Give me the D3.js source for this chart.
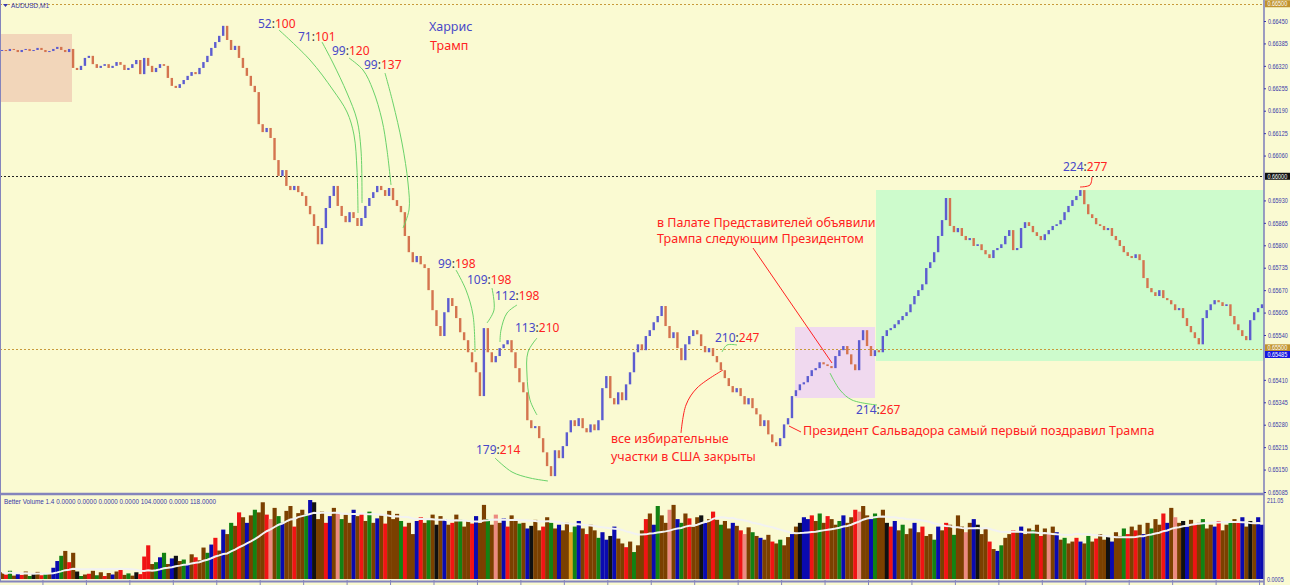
<!DOCTYPE html>
<html>
<head>
<meta charset="utf-8">
<script src="https://cdn.jsdelivr.net/npm/d3@7"></script>
<style>
  html, body { margin: 0; padding: 0; background: #fafad2; overflow: hidden; }
  svg { display: block; }
</style>
</head>
<body>
<svg id="chart" width="1290" height="585"></svg>
<script>
// AUDUSD M1 closes, in points (1 point = 0.00001)
const closePts = [
  66366,66363,66369,66366,66360,66366,66369,66363,66366,66372,66366,66360,66363,66369,66375,66366,66360,66369,
  66314,66308,66320,66343,66349,66325,66314,
  66320,66325,66314,66320,66331,66323,66308,66314,66325,66337,66296,66343,66320,66302,66314,66325,66320,
  66285,66262,66256,66267,66279,66291,
  66302,66296,66314,
  66331,66349,66372,66389,66407,
  66436,
  66395,66366,66378,66343,
  66314,66291,66262,66244,
  66151,66128,66140,66111,
  66047,66001,66018,65972,
  65960,65972,65954,65943,
  65914,65890,65856,65803,
  65850,65908,65943,65972,
  65914,65885,65867,65896,65879,65856,
  65879,65914,65937,65954,65972,
  65960,65943,65966,65931,65914,65896,
  65827,65780,65751,65769,65745,65734,
  65670,65612,65566,65537,
  65606,65647,65624,65589,
  65548,65525,65490,65461,65432,
  65363,
  65560,
  65490,65461,65479,65502,
  65513,65525,65490,
  65444,65403,65374,
  65293,65270,65276,
  65241,65200,65160,65131,
  65206,65183,65218,
  65258,65293,65276,65299,
  65270,65258,65281,65264,65293,
  65386,65421,
  65357,65339,65374,65351,
  65397,65432,65490,65513,
  65496,65537,65554,65577,65595,
  65624,
  65566,65531,65548,65502,
  65467,65513,65537,65554,
  65542,65508,65490,65502,65479,65461,
  65438,65415,65392,65374,
  65386,65363,65339,65357,65328,
  65310,65276,65293,65252,65229,
  65218,65241,
  65281,65299,
  65363,65380,65397,
  65403,65421,65438,65444,65461,65455,65450,
  65444,65479,65496,65508,
  65484,65455,65438,65525,
  65554,
  65508,65479,65496,
  65490,65537,65554,
  65560,65571,65583,65595,65606,
  65629,65653,65670,65687,
  65734,65751,65780,
  65827,65873,
  65937,
  65856,65838,65850,
  65827,65815,65821,65798,65803,65786,
  65774,65763,65786,65792,
  65803,65827,65844,
  65786,65792,
  65850,65867,65856,
  65838,65827,65815,65832,
  65844,65856,65861,
  65873,65896,65914,65931,65943,
  65960,
  65919,65890,65879,
  65861,65856,65844,65850,
  65827,65815,65798,65780,
  65769,65763,65774,65757,
  65705,65676,
  65664,65653,65670,65647,65641,
  65629,65612,65618,65589,
  65566,65548,65531,65513,
  65589,65612,65629,65641,
  65635,65624,65629,
  65595,65571,65554,65537,65525,
  65583,65606,65618,65629
];

// tick volume per bar
const volumes = [
  18,12,22,9,15,11,20,8,14,19,10,13,16,
  30,48,62,75,45,70,
  20,8,12,
  14,22,10,18,8,16,12,20,24,11,15,9,18,13,
  60,90,40,
  45,58,70,40,55,62,48,52,38,
  66,58,50,
  84,70,92,110,76,
  132,120,150,142,178,
  165,150,170,185,178,
  205,172,160,190,168,
  150,182,195,140,176,
  185,172,211,205,160,
  180,150,168,190,175,
  160,172,150,185,168,
  175,155,180,150,162,
  170,148,182,160,174,155,
  140,150,120,155,165,
  150,160,172,145,168,
  160,145,150,172,158,
  140,155,148,168,150,
  198,160,145,172,150,
  162,140,170,155,148,
  150,135,142,158,130,
  140,165,150,135,145,
  130,150,125,140,155,
  135,120,145,130,110,
  125,105,115,140,108,
  95,85,100,72,90,
  130,160,175,145,195,
  170,150,185,198,160,
  150,175,162,140,165,
  170,150,160,180,158,
  145,155,135,150,142,
  130,120,138,125,115,
  110,105,118,100,95,
  105,90,112,120,140,
  150,165,160,170,155,
  175,150,168,160,145,
  155,170,150,165,185,
  180,195,170,160,175,
  168,185,150,140,155,
  130,145,120,135,150,
  125,140,115,120,105,
  140,130,150,145,118,
  170,140,125,150,160,
  145,120,135,100,80,
  75,90,110,120,130,
  125,140,120,135,130,
  145,115,135,120,140,
  125,105,110,95,100,
  110,100,95,115,100,
  108,120,105,112,100,
  125,115,135,120,140,
  130,145,120,150,135,
  160,145,175,150,190,
  165,150,155,140,158,
  145,150,160,135,145,
  140,155,130,145,150,
  160,150,165,140,155,
  150,165,145
];

// Better Volume bar colours, one letter per bar
const volColors = [
  "brgbBrbgkb","rgbBBgbrbk","gbrbgbrbBb","rbgbkrrrbg","BgbBkbgBbr",
  "bbgBrbBbgb","rbBbgbbrpb","gBbbrbbgBk","bbrBbpgbbB","brbgbBbrbb",
  "bgrbbBrbgb","kbBbrbgbbr","BbbgbpbBrb","bgbBkbbrbg","bBbbygBbrb",
  "bgBBkBbbrb","gbbrbBgbbp","bBgbrbbkBb","rbgbbBbrpb","gbBbbrbgbb",
  "BbkBBrbgbr","bbgBbbrpbb","BgbbkrBbgb","bBbrbbgBbr","bgbbpbBkbb",
  "rbBgbbrbBb","bgbrbpbBbg","bbrBbgbrbb","kBbbgrbrbB","bgbbrBbpbk",
  "BbrbgbbBrb","bgbrBbkbBB"
].join("");

const priceTicks = [0.66450,0.66385,0.66320,0.66255,0.66190,0.66125,0.66060,
  0.65930,0.65865,0.65800,0.65735,0.65670,0.65605,0.65540,
  0.65410,0.65345,0.65280,0.65215,0.65150,0.65085];

const volMax = 211.05;
const bidPrice = 0.65485;

// election counts: Harris:Trump
const scoreLabels = ["52:100","71:101","99:120","99:137","99:198","109:198",
  "112:198","113:210","179:214","210:247","214:267","224:277"];

const notes = [
  "в Палате Представителей объявили",
  "Трампа следующим Президентом",
  "все избирательные",
  "участки в США закрыты",
  "Президент Сальвадора самый первый поздравил Трампа"
];


var svg = d3.select('#chart');
var plotR = 1264;
var N = closePts.length;

var x = d3.scaleBand().domain(d3.range(N)).range([0, plotR]);
var y = d3.scaleLinear().domain([0.65085, 0.66500]).range([492, 3.75]);
var yv = d3.scaleLinear().domain([0, volMax]).range([579, 500]);

var BLUE = '#4848c8', RED = '#ff2222', GREEN = '#6ad26a';
var AXIS = '#3838a8';
var SQ = 0.78;   // horizontal squeeze of the small axis font

svg.append('rect').attr('width', 1290).attr('height', 585).attr('fill', '#fafad2');

// shaded zones
var zones = [
  { x0: 0, x1: 72, y0: 34, y1: 102, fill: '#f2d6ba' },
  { x0: 795, x1: 875, y0: 327, y1: 398, fill: '#f0d9ef' },
  { x0: 876, x1: plotR, y0: 190, y1: 361, fill: '#cdfbcc' }
];
svg.append('g').selectAll('rect').data(zones).join('rect')
  .attr('x', function (d) { return d.x0; })
  .attr('y', function (d) { return d.y0; })
  .attr('width', function (d) { return d.x1 - d.x0; })
  .attr('height', function (d) { return d.y1 - d.y0; })
  .attr('fill', function (d) { return d.fill; });

// level lines
var levels = [
  { p: 0.66500, c: '#c89a3a' },
  { p: 0.66000, c: '#222' },
  { p: 0.65500, c: '#c89a3a' }
];
svg.append('g').selectAll('line').data(levels).join('line')
  .attr('x1', 0).attr('x2', plotR)
  .attr('y1', function (d) { return Math.round(y(d.p)) + 0.5; })
  .attr('y2', function (d) { return Math.round(y(d.p)) + 0.5; })
  .attr('stroke', function (d) { return d.c; })
  .attr('stroke-dasharray', '2,2');

// candles (open = previous close)
var closes = closePts.map(function (v) { return v / 1e5; });
var bars = closes.map(function (c, i) { return { i: i, o: i ? closes[i - 1] : c, c: c }; });
var bw = 2.4;
svg.append('g').selectAll('rect').data(bars).join('rect')
  .attr('x', function (d) { return x(d.i) + (x.bandwidth() - bw) / 2; })
  .attr('y', function (d) { return y(Math.max(d.o, d.c)); })
  .attr('width', bw)
  .attr('height', function (d) { return Math.max(1, Math.abs(y(d.o) - y(d.c))); })
  .attr('fill', function (d) { return d.c >= d.o ? '#5c5cd0' : '#d4744f'; });

// connectors
var curve = d3.line().curve(d3.curveCatmullRom.alpha(0.5));
var links = [
  { c: GREEN, p: [[279,30],[310,60],[333,90],[347,112],[354,135],[357,170],[358,213]] },
  { c: GREEN, p: [[322,42],[333,63],[347,93],[357,120],[361,150],[362,203]] },
  { c: GREEN, p: [[349,58],[363,70],[373,90],[382,120],[387,150],[391,185]] },
  { c: GREEN, p: [[385,73],[393,103],[402,143],[408,183],[409,210],[403,228]] },
  { c: GREEN, p: [[456,270],[466,290],[473,315],[475,352]] },
  { c: GREEN, p: [[492,288],[494,310],[487,323]] },
  { c: GREEN, p: [[517,305],[507,313],[501,330],[500,342]] },
  { c: GREEN, p: [[537,338],[528,352],[527,375],[530,400],[537,415]] },
  { c: GREEN, p: [[495,458],[512,472],[530,478],[548,481]] },
  { c: GREEN, p: [[737,345],[727,345],[722,352]] },
  { c: GREEN, p: [[830,373],[840,390],[852,400],[877,405]] },
  { c: RED, p: [[681,433],[686,405],[697,388],[723,370]] },
  { c: RED, p: [[753,248],[832,363]] },
  { c: RED, p: [[789,426],[801,432]] },
  { c: RED, p: [[1092,177],[1090,185],[1080,187]] }
];
svg.append('g').selectAll('path').data(links).join('path')
  .attr('d', function (d) { return curve(d.p); })
  .attr('fill', 'none')
  .attr('stroke', function (d) { return d.c; })
  .attr('stroke-width', 1);

// score labels  blue:red
var scorePos = [[258,28],[298,41],[332,55],[364,69],[438,268],[467,284],
  [495,300],[515,332],[476,454],[715,342],[856,414],[1063,171]];
var txtFont = '"Noto Sans", "Open Sans", sans-serif';
var score = svg.append('g').selectAll('text').data(scoreLabels).join('text')
  .attr('x', function (d, i) { return scorePos[i][0]; })
  .attr('y', function (d, i) { return scorePos[i][1]; })
  .style('font-family', txtFont)
  .style('font-size', '12px');
score.each(function (d) {
  var parts = d.split(':');
  var t = d3.select(this);
  t.append('tspan').attr('fill', BLUE).text(parts[0]);
  t.append('tspan').attr('fill', '#333').text(':');
  t.append('tspan').attr('fill', RED).text(parts[1]);
});

// legend
var legend = [{ t: 'Харрис', c: BLUE, x: 429, y: 31 }, { t: 'Трамп', c: RED, x: 430, y: 50 }];
svg.append('g').selectAll('text').data(legend).join('text')
  .attr('x', function (d) { return d.x; })
  .attr('y', function (d) { return d.y; })
  .attr('fill', function (d) { return d.c; })
  .style('font-family', txtFont)
  .style('font-size', '12.5px')
  .text(function (d) { return d.t; });

// notes
var notePos = [[657,227],[657,243],[611,443],[611,461],[803,435]];
svg.append('g').selectAll('text').data(notes).join('text')
  .attr('x', function (d, i) { return notePos[i][0]; })
  .attr('y', function (d, i) { return notePos[i][1]; })
  .attr('fill', RED)
  .style('font-family', txtFont)
  .style('font-size', '12.5px')
  .text(function (d) { return d; });

// volume panel
var volPalette = {
  b: '#7b4000', B: '#0a0ab0', g: '#138213', r: '#f01414', p: '#ec8a80',
  k: '#111111', y: '#e0a020', m: '#8a2a8a', w: '#dadada'
};
svg.append('g').selectAll('rect').data(volumes).join('rect')
  .attr('x', function (d, i) { return x(i); })
  .attr('width', x.bandwidth() + 0.2)
  .attr('y', function (d) { return yv(d); })
  .attr('height', function (d) { return yv(0) - yv(d); })
  .attr('fill', function (d, i) { return volPalette[volColors[i]] || volPalette.b; });

var avg = volumes.map(function (v, i) { return d3.mean(volumes.slice(Math.max(0, i - 19), i + 1)); });
svg.append('path')
  .attr('d', d3.line()
    .x(function (d, i) { return x(i) + x.bandwidth() / 2; })
    .y(function (d) { return yv(d); })(avg))
  .attr('fill', 'none')
  .attr('stroke', '#f2f2f2')
  .attr('stroke-width', 2);

// frame
var FRAME = '#8484bc';
svg.append('rect').attr('x', 0).attr('y', 492.5).attr('width', plotR).attr('height', 7).attr('fill', '#fafad2');
svg.append('line').attr('x1', 0).attr('x2', plotR).attr('y1', 494).attr('y2', 494)
  .attr('stroke', FRAME).attr('stroke-width', 2.5);
svg.append('line').attr('x1', 0).attr('x2', plotR).attr('y1', 581.5).attr('y2', 581.5)
  .attr('stroke', FRAME).attr('stroke-width', 2);
svg.append('line').attr('x1', 0.5).attr('x2', 0.5).attr('y1', 0).attr('y2', 582)
  .attr('stroke', FRAME).attr('stroke-width', 1);
svg.append('line').attr('x1', plotR).attr('x2', plotR).attr('y1', 0).attr('y2', 585)
  .attr('stroke', FRAME).attr('stroke-width', 1.6);

// time ticks
var timeTicks = d3.range(11, N, 11);
svg.append('g').selectAll('line').data(timeTicks).join('line')
  .attr('x1', function (d) { return x(d) - 0.5; })
  .attr('x2', function (d) { return x(d) - 0.5; })
  .attr('y1', 580).attr('y2', 585)
  .attr('stroke', FRAME);

// price axis
var axFont = '"Liberation Sans", sans-serif';
var ax = svg.append('g')
  .attr('transform', 'translate(' + plotR + ',0)')
  .call(d3.axisRight(y).tickValues(priceTicks).tickFormat(d3.format('.5f')).tickSize(2).tickPadding(2));
ax.select('.domain').remove();
ax.selectAll('line').attr('stroke', AXIS);
ax.selectAll('text').attr('fill', AXIS)
  .attr('x', 4 / SQ)
  .attr('transform', 'scale(' + SQ + ',1)')
  .style('font-family', axFont).style('font-size', '7px');

// marked price labels
var marks = [
  { p: 0.66500, bg: '#c0922e', dy: 0 },
  { p: 0.66000, bg: '#111111', dy: 0 },
  { p: 0.65500, bg: '#c0922e', dy: -1 },
  { p: bidPrice, bg: '#1515e0', dy: 0.5 }
];
var mk = svg.append('g').selectAll('g').data(marks).join('g')
  .attr('transform', function (d) { return 'translate(' + (plotR + 1) + ',' + (y(d.p) + d.dy) + ')'; });
mk.append('rect').attr('x', 0).attr('y', -3.5).attr('width', 25).attr('height', 7)
  .attr('fill', function (d) { return d.bg; });
mk.append('text').attr('x', 2.5 / SQ).attr('y', 2.6)
  .attr('transform', 'scale(' + SQ + ',1)')
  .attr('fill', '#fff')
  .style('font-family', axFont).style('font-size', '7px')
  .text(function (d) { return d3.format('.5f')(d.p); });

// volume axis labels
var volAxis = [{ t: d3.format('.2f')(volMax), v: volMax }, { t: '0.0005', v: 0 }];
svg.append('g').selectAll('g').data(volAxis).join('g')
  .attr('transform', function (d) { return 'translate(' + (plotR + 3) + ',' + (yv(d.v) + 3) + ') scale(' + SQ + ',1)'; })
  .append('text')
  .attr('fill', AXIS)
  .style('font-family', axFont).style('font-size', '7px')
  .text(function (d) { return d.t; });

// panel captions
svg.append('path').attr('d', 'M3,4 L8,4 L5.5,7 Z').attr('fill', AXIS);
svg.append('text').attr('x', 11).attr('y', 8).attr('fill', AXIS)
  .attr('textLength', 38).attr('lengthAdjust', 'spacingAndGlyphs')
  .style('font-family', axFont).style('font-size', '7px').text('AUDUSD,M1');
svg.append('text').attr('x', 4).attr('y', 504).attr('fill', AXIS)
  .attr('textLength', 212).attr('lengthAdjust', 'spacingAndGlyphs')
  .style('font-family', axFont).style('font-size', '7px')
  .text('Better Volume 1.4 0.0000 0.0000 0.0000 0.0000 104.0000 0.0000 118.0000');
</script>
</body>
</html>
